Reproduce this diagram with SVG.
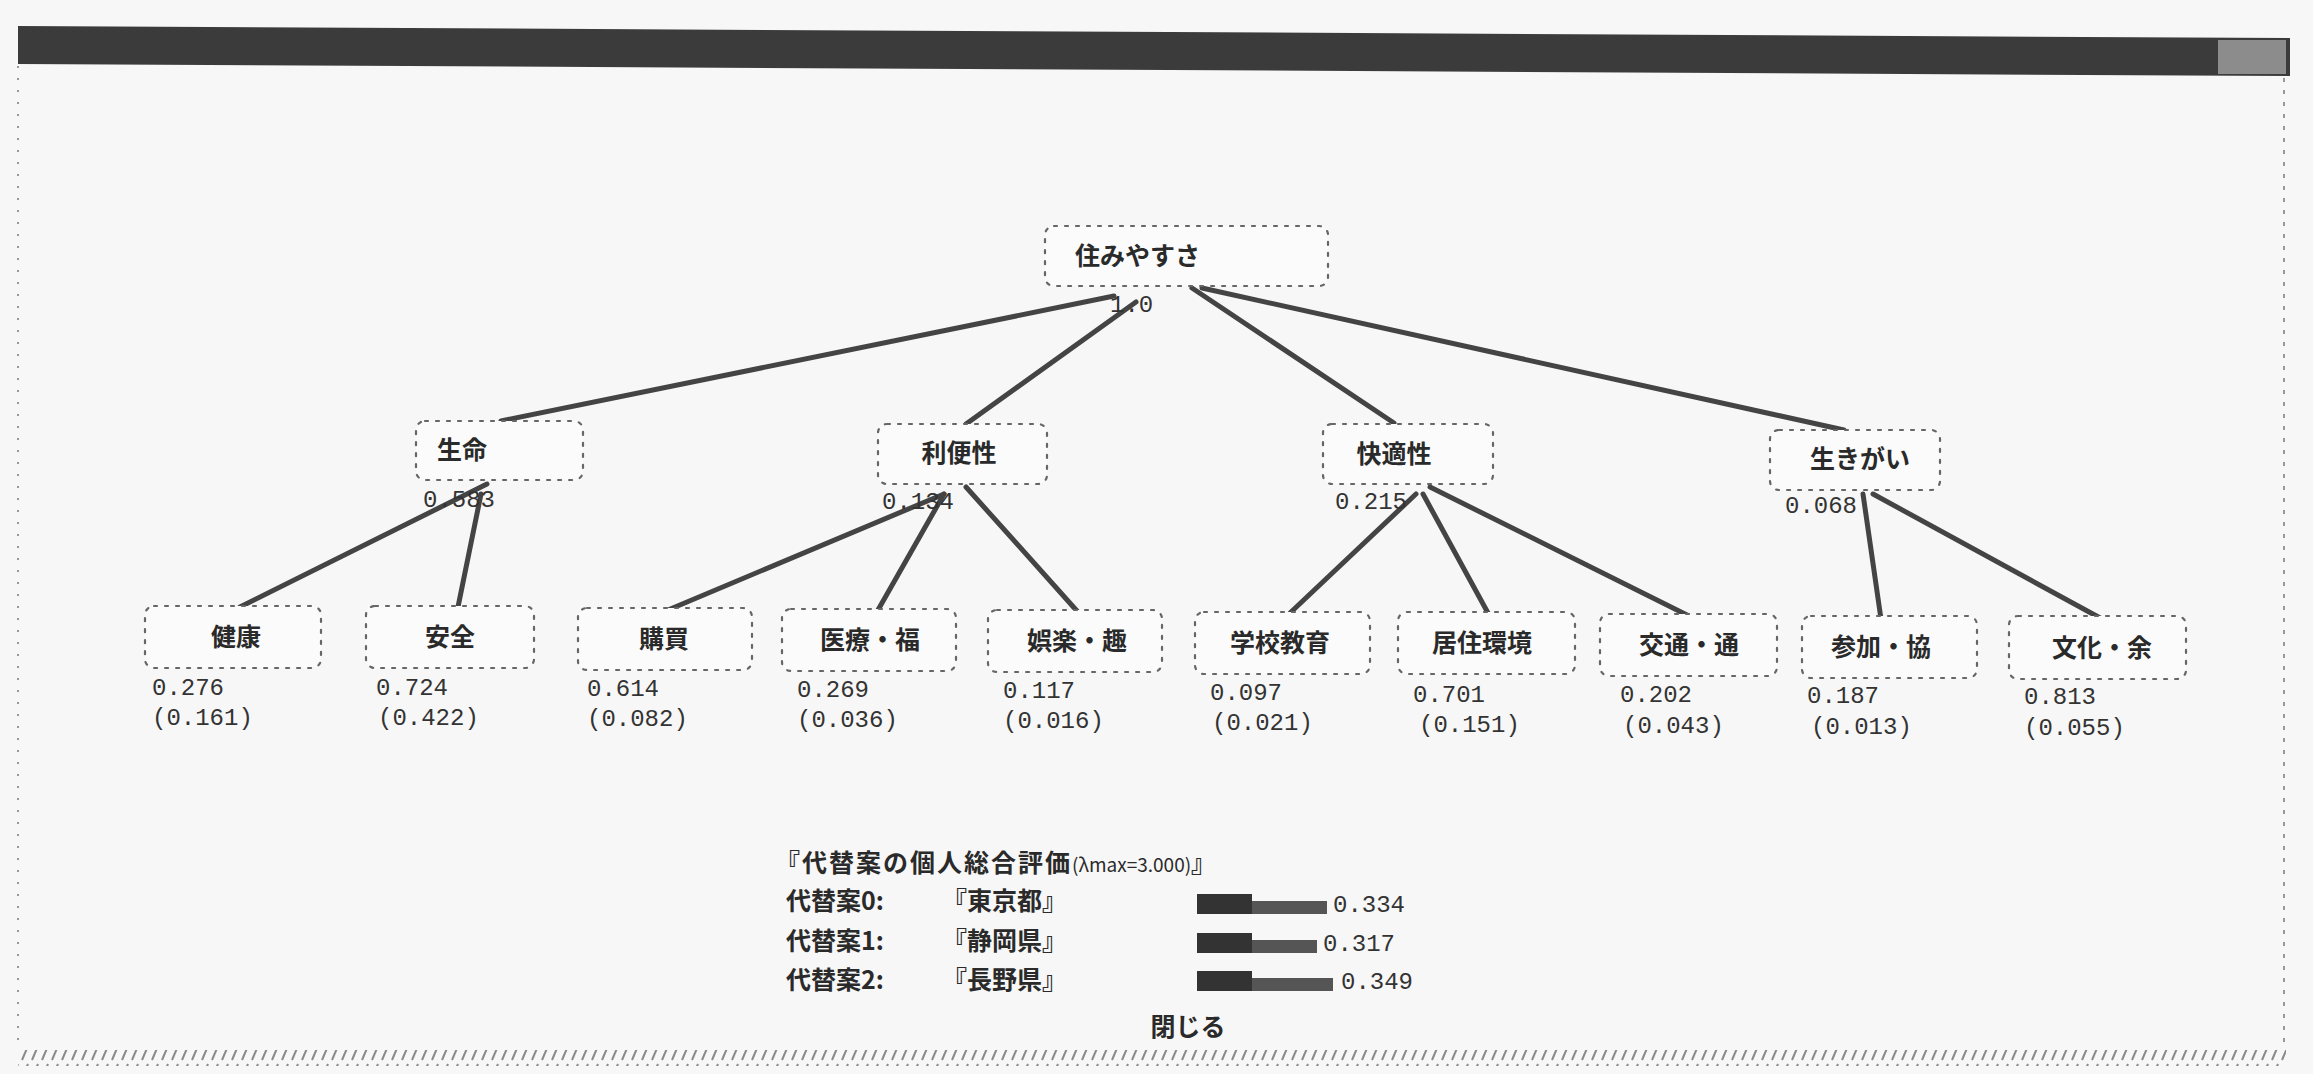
<svg xmlns="http://www.w3.org/2000/svg" width="2313" height="1074" viewBox="0 0 2313 1074">
<defs>
<style>
.box{fill:#fbfbfb;stroke:#666;stroke-width:2.2;stroke-dasharray:3 8;stroke-linecap:round}
.lbl{font-family:"Noto Sans CJK JP","Noto Sans",sans-serif;font-size:25px;font-weight:700;fill:#2a2a2a}
.num{font-family:"Liberation Mono","DejaVu Sans Mono",monospace;font-size:24px;fill:#333}
.edge{stroke:#444;stroke-width:5;stroke-linecap:round;fill:none}
.txt{font-family:"Noto Sans CJK JP","Noto Sans",sans-serif;font-size:25px;font-weight:700;fill:#2a2a2a}
</style>
<pattern id="hatch" width="10" height="18" patternUnits="userSpaceOnUse">
<path d="M2 16 L8 2" stroke="#8a8a8a" stroke-width="2"/>
</pattern>
</defs>
<rect x="0" y="0" width="2313" height="1074" fill="#f7f7f7"/>
<g id="window">
<polygon points="18,26 2290,38 2290,76 18,64" fill="#3b3b3b"/>
<rect x="2218" y="40" width="68" height="34" fill="#8c8c8c"/>
<line x1="18" y1="66" x2="18" y2="1050" stroke="#999" stroke-width="2" stroke-dasharray="2 10"/>
<line x1="2284" y1="78" x2="2284" y2="1050" stroke="#999" stroke-width="2" stroke-dasharray="4 8"/>
<rect x="18" y="1050" width="2268" height="16" fill="url(#hatch)"/>
</g>
<g id="connectors">
<line class="edge" x1="1114" y1="296" x2="501" y2="421"/>
<line class="edge" x1="1136" y1="302" x2="966" y2="424"/>
<line class="edge" x1="1192" y1="288" x2="1394" y2="423"/>
<line class="edge" x1="1202" y1="288" x2="1844" y2="430"/>
<line class="edge" x1="487" y1="484" x2="240" y2="607"/>
<line class="edge" x1="481" y1="494" x2="458" y2="607"/>
<line class="edge" x1="944" y1="494" x2="668" y2="610"/>
<line class="edge" x1="944" y1="494" x2="878" y2="610"/>
<line class="edge" x1="966" y1="487" x2="1077" y2="611"/>
<line class="edge" x1="1416" y1="494" x2="1290" y2="613"/>
<line class="edge" x1="1423" y1="494" x2="1488" y2="613"/>
<line class="edge" x1="1430" y1="487" x2="1689" y2="616"/>
<line class="edge" x1="1863" y1="494" x2="1881" y2="619"/>
<line class="edge" x1="1873" y1="494" x2="2102" y2="619"/>
</g>
<g id="n-root">
<rect class="box" x="1045" y="226" width="283" height="60" rx="9"/>
<text class="lbl" x="1075" y="265">住みやすさ</text>
<text class="num" x="1110" y="312">1.0</text>
</g>
<g id="n-seimei">
<rect class="box" x="416" y="421" width="167" height="59" rx="9"/>
<text class="lbl" x="462" y="459" text-anchor="middle">生命</text>
<text class="num" x="423" y="507">0.583</text>
</g>
<g id="n-riben">
<rect class="box" x="878" y="424" width="169" height="60" rx="9"/>
<text class="lbl" x="959" y="462" text-anchor="middle">利便性</text>
<text class="num" x="882" y="509">0.134</text>
</g>
<g id="n-kaiteki">
<rect class="box" x="1323" y="424" width="170" height="60" rx="9"/>
<text class="lbl" x="1394" y="463" text-anchor="middle">快適性</text>
<text class="num" x="1335" y="509">0.215</text>
</g>
<g id="n-ikigai">
<rect class="box" x="1770" y="430" width="170" height="60" rx="9"/>
<text class="lbl" x="1860" y="468" text-anchor="middle">生きがい</text>
<text class="num" x="1785" y="513">0.068</text>
</g>
<g id="n-kenko">
<rect class="box" x="145" y="606" width="176" height="62" rx="9"/>
<text class="lbl" x="236" y="646" text-anchor="middle">健康</text>
<text class="num" x="152" y="695">0.276</text>
<text class="num" x="152" y="725">(0.161)</text>
</g>
<g id="n-anzen">
<rect class="box" x="366" y="606" width="168" height="62" rx="9"/>
<text class="lbl" x="450" y="646" text-anchor="middle">安全</text>
<text class="num" x="376" y="695">0.724</text>
<text class="num" x="378" y="725">(0.422)</text>
</g>
<g id="n-kobai">
<rect class="box" x="578" y="608" width="174" height="62" rx="9"/>
<text class="lbl" x="664" y="648" text-anchor="middle">購買</text>
<text class="num" x="587" y="696">0.614</text>
<text class="num" x="587" y="726">(0.082)</text>
</g>
<g id="n-iryo">
<rect class="box" x="782" y="609" width="174" height="62" rx="9"/>
<text class="lbl" x="870" y="649" text-anchor="middle">医療・福</text>
<text class="num" x="797" y="697">0.269</text>
<text class="num" x="797" y="727">(0.036)</text>
</g>
<g id="n-goraku">
<rect class="box" x="988" y="610" width="174" height="62" rx="9"/>
<text class="lbl" x="1077" y="650" text-anchor="middle">娯楽・趣</text>
<text class="num" x="1003" y="698">0.117</text>
<text class="num" x="1003" y="728">(0.016)</text>
</g>
<g id="n-gakko">
<rect class="box" x="1195" y="612" width="175" height="62" rx="9"/>
<text class="lbl" x="1280" y="652" text-anchor="middle">学校教育</text>
<text class="num" x="1210" y="700">0.097</text>
<text class="num" x="1212" y="730">(0.021)</text>
</g>
<g id="n-kyoju">
<rect class="box" x="1398" y="612" width="177" height="62" rx="9"/>
<text class="lbl" x="1482" y="652" text-anchor="middle">居住環境</text>
<text class="num" x="1413" y="702">0.701</text>
<text class="num" x="1419" y="732">(0.151)</text>
</g>
<g id="n-kotsu">
<rect class="box" x="1600" y="614" width="177" height="62" rx="9"/>
<text class="lbl" x="1689" y="654" text-anchor="middle">交通・通</text>
<text class="num" x="1620" y="702">0.202</text>
<text class="num" x="1623" y="733">(0.043)</text>
</g>
<g id="n-sanka">
<rect class="box" x="1802" y="616" width="175" height="62" rx="9"/>
<text class="lbl" x="1881" y="656" text-anchor="middle">参加・協</text>
<text class="num" x="1807" y="703">0.187</text>
<text class="num" x="1811" y="734">(0.013)</text>
</g>
<g id="n-bunka">
<rect class="box" x="2009" y="616" width="177" height="63" rx="9"/>
<text class="lbl" x="2102" y="657" text-anchor="middle">文化・余</text>
<text class="num" x="2024" y="704">0.813</text>
<text class="num" x="2024" y="735">(0.055)</text>
</g>
<g id="results">
<text class="txt" x="775" y="872" font-size="27" letter-spacing="2">『代替案の個人総合評価<tspan font-size="19" font-weight="400" letter-spacing="0">(λmax=3.000)</tspan>』</text>
<text class="txt" x="786" y="910">代替案0:</text>
<text class="txt" x="786" y="950">代替案1:</text>
<text class="txt" x="786" y="989">代替案2:</text>
<text class="txt" x="942" y="910">『東京都』</text>
<text class="txt" x="942" y="950">『静岡県』</text>
<text class="txt" x="942" y="989">『長野県』</text>
<rect x="1197" y="894" width="55" height="20" fill="#333"/>
<rect x="1252" y="901" width="75" height="13" fill="#555"/>
<rect x="1197" y="933" width="55" height="20" fill="#333"/>
<rect x="1252" y="940" width="65" height="13" fill="#555"/>
<rect x="1197" y="971" width="55" height="20" fill="#333"/>
<rect x="1252" y="978" width="81" height="13" fill="#555"/>
<text class="num" x="1333" y="912" font-size="22">0.334</text>
<text class="num" x="1323" y="951" font-size="22">0.317</text>
<text class="num" x="1341" y="989" font-size="22">0.349</text>
<text class="txt" x="1188" y="1036" text-anchor="middle">閉じる</text>
</g>
</svg>
